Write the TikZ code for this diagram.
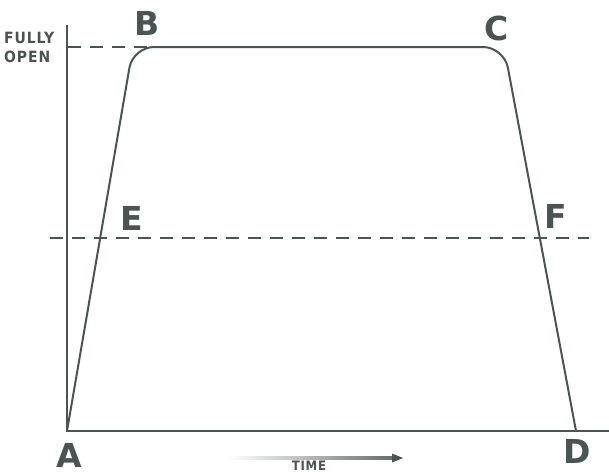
\documentclass[tikz,border=0pt]{standalone}
\usepackage{fontspec}
\setmainfont{DejaVu Sans}
\newfontfamily\lblfont{DejaVu Sans}
\newfontfamily\smallfont[LetterSpace=6]{DejaVu Sans Condensed}
\usetikzlibrary{arrows.meta}
\definecolor{ink}{RGB}{74,84,82}
\tikzset{
  ln/.style={draw=ink, line width=2pt},
  dsh/.style={draw=ink, line width=1.8pt, dash pattern=on 13pt off 9pt},
  big/.style={text=ink, font=\lblfont\bfseries\fontsize{33}{33}\selectfont, inner sep=0pt},
  small/.style={text=ink, font=\smallfont\bfseries\fontsize{15.5}{19}\selectfont, inner sep=0pt, align=left},
}
\begin{document}
\begin{tikzpicture}[x=1pt,y=-1pt]
\useasboundingbox (0,0) rectangle (609,474);
% coordinates
\coordinate (top) at (67,25);
\coordinate (o) at (67,431);
\coordinate (xend) at (609,431);
\coordinate (pA) at (67,431);
\coordinate (pB) at (133,47);
\coordinate (pC) at (504,47);
\coordinate (pD) at (576,431);
\coordinate (d1) at (68,47);
\coordinate (d2) at (150,47);
\coordinate (m1) at (50,238);
\coordinate (m2) at (589,238);
% dashed lines
\draw[dsh] (d1) -- (d2);
\draw[dsh] (m1) -- (m2);
% axes
\draw[ln] (top) -- (o) -- (xend);
% trapezoid curve
\draw[ln, rounded corners=21pt] (pA) -- (pB) -- (pC) -- (pD);
% labels
\node[big] (A) at (69,455) {A};
\node[big] (B) at (147,23) {B};
\node[big] (C) at (497,28) {C};
\node[big] (D) at (577,451) {D};
\node[big] (E) at (132,218) {E};
\node[big] (F) at (556,216) {F};
\node[small, anchor=west] (fo) at (4,47) {FULLY\\OPEN};
% time arrow
\coordinate (t1) at (228,458);
\coordinate (t2) at (393,458);
\shade[left color=white, right color=ink!85] (228,456.5) rectangle (394,459.5);
\fill[ink] (392,453.5) -- (403,458) -- (392,462.5) -- cycle;
\node[text=ink, font=\smallfont\bfseries\fontsize{13}{13}\selectfont, inner sep=0pt] (T) at (309,466) {TIME};
\end{tikzpicture}
\end{document}
